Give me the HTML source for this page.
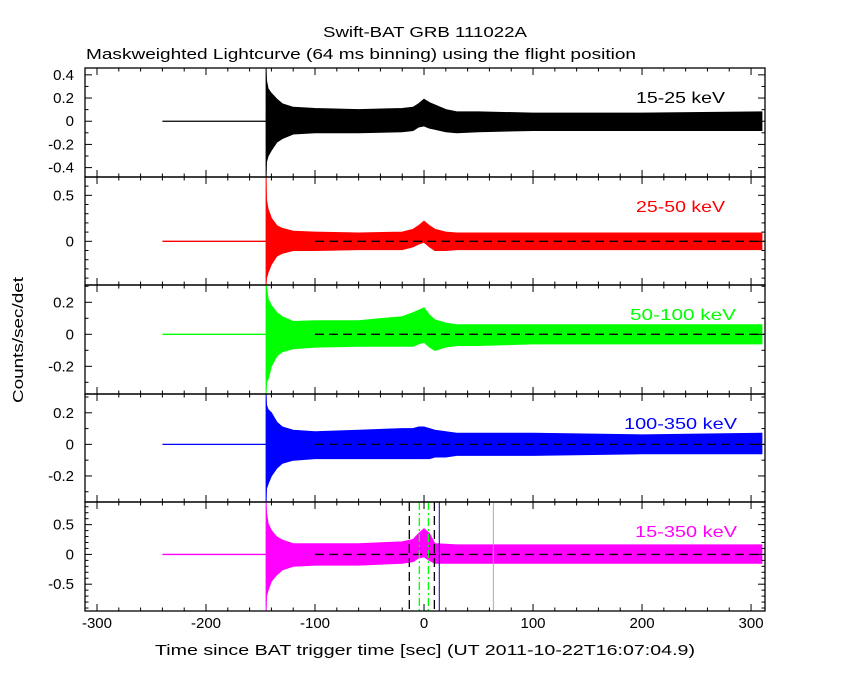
<!DOCTYPE html>
<html><head><meta charset="utf-8"><style>
html,body{margin:0;padding:0;background:#fff;}
svg{display:block;font-family:"Liberation Sans",sans-serif;}
</style></head><body>
<svg id="chart" width="850" height="680" viewBox="0 0 850 680" xmlns="http://www.w3.org/2000/svg">
<rect width="850" height="680" fill="#fff"/>
<text x="425" y="37" font-size="15" text-anchor="middle" textLength="204" lengthAdjust="spacingAndGlyphs">Swift-BAT GRB 111022A</text>
<text x="86" y="59" font-size="15" textLength="550" lengthAdjust="spacingAndGlyphs">Maskweighted Lightcurve (64 ms binning) using the flight position</text>
<text transform="translate(23,340) rotate(-90)" font-size="15" text-anchor="middle" textLength="126" lengthAdjust="spacingAndGlyphs">Counts/sec/det</text>
<text x="425" y="655" font-size="15" text-anchor="middle" textLength="540" lengthAdjust="spacingAndGlyphs">Time since BAT trigger time [sec] (UT 2011-10-22T16:07:04.9)</text>
<g id="plots"></g>
</svg>
<script>
// ---- data ----
const panelNames = ["15-25 keV","25-50 keV","50-100 keV","100-350 keV","15-350 keV"];
const panelColors = ["#000000","#ff0000","#00ff00","#0000ff","#ff00ff"];
const panelYMin = [-0.481,-0.475,-0.373,-0.365,-0.95];
const panelYMax = [0.459,0.699,0.308,0.319,0.88];
const panelMajor = [0.2,0.5,0.2,0.2,0.5];
const panelMinor = [0.1,0.1,0.1,0.1,0.1];
const panelTickLabels = [["0.4","0.2","0","-0.2","-0.4"],["0.5","0"],["0.2","0","-0.2"],["0.2","0","-0.2"],["0.5","0","-0.5"]];
const panelTickValues = [[0.4,0.2,0,-0.2,-0.4],[0.5,0],[0.2,0,-0.2],[0.2,0,-0.2],[0.5,0,-0.5]];
const envTimes = [-144.9,-144.5,-143,-140,-135,-130,-120,-100,-60,-20,-10,-5,0,5,10,20,30,50,100,200,310];
const upper1 = [0.459,0.35,0.28,0.24,0.19,0.15,0.12,0.11,0.10,0.11,0.12,0.15,0.19,0.16,0.14,0.10,0.08,0.08,0.07,0.07,0.08];
const lower1 = [-0.481,-0.35,-0.30,-0.25,-0.18,-0.15,-0.11,-0.10,-0.10,-0.09,-0.08,-0.05,-0.04,-0.06,-0.07,-0.09,-0.10,-0.09,-0.08,-0.08,-0.08];
const upper2 = [0.699,0.45,0.35,0.25,0.17,0.14,0.11,0.10,0.09,0.10,0.13,0.17,0.22,0.17,0.13,0.10,0.09,0.09,0.09,0.09,0.09];
const lower2 = [-0.475,-0.40,-0.34,-0.25,-0.16,-0.13,-0.10,-0.10,-0.09,-0.09,-0.06,-0.03,-0.01,-0.06,-0.10,-0.10,-0.09,-0.09,-0.09,-0.09,-0.09];
const upper3 = [0.308,0.30,0.22,0.18,0.135,0.11,0.08,0.085,0.085,0.11,0.135,0.15,0.165,0.12,0.09,0.07,0.06,0.06,0.06,0.06,0.06];
const lower3 = [-0.373,-0.30,-0.28,-0.20,-0.135,-0.11,-0.09,-0.08,-0.075,-0.075,-0.075,-0.06,-0.05,-0.08,-0.10,-0.08,-0.07,-0.07,-0.06,-0.06,-0.06];
const upper4 = [0.319,0.25,0.22,0.20,0.14,0.11,0.09,0.08,0.09,0.10,0.10,0.11,0.11,0.10,0.09,0.08,0.07,0.07,0.07,0.06,0.07];
const lower4 = [-0.365,-0.28,-0.25,-0.20,-0.15,-0.12,-0.10,-0.09,-0.09,-0.09,-0.09,-0.09,-0.09,-0.09,-0.08,-0.08,-0.07,-0.07,-0.07,-0.06,-0.06];
const upper5 = [0.88,0.70,0.52,0.40,0.29,0.24,0.18,0.18,0.18,0.21,0.25,0.35,0.43,0.35,0.18,0.17,0.16,0.16,0.16,0.16,0.16];
const lower5 = [-0.95,-0.70,-0.60,-0.45,-0.34,-0.26,-0.20,-0.18,-0.18,-0.15,-0.12,-0.06,-0.04,-0.10,-0.15,-0.15,-0.15,-0.15,-0.15,-0.15,-0.15];
const uppers = [upper1,upper2,upper3,upper4,upper5];
const lowers = [lower1,lower2,lower3,lower4,lower5];
const preBurstStart = -240;
const burstStart = -144.9;
const baselineStart = -100;
const xTickValues = [-300,-200,-100,0,100,200,300];
const xTickLabels = ["-300","-200","-100","0","100","200","300"];
const blackDashTimes = [-13.5,9.5];
const greenDashTimes = [-4.3,4.0];
const blueLineTime = 14;
const orangeLineTime = 63.6;

// ---- layout ----
const X0=85, X1=765, T0=-311, T1=312.8;
const panelTops=[68,177,285,394,502], panelBots=[177,285,394,502,611];
const labelRight=[725,725,736,737,737], labelWidth=[89,89,106,113,102];
const NS="http://www.w3.org/2000/svg";
const root=document.getElementById('plots');
function xs(t){return X0+(t-T0)/(T1-T0)*(X1-X0);}
function mk(tag,attrs,parent){const e=document.createElementNS(NS,tag);for(const k in attrs)e.setAttribute(k,attrs[k]);(parent||root).appendChild(e);return e;}

for(let p=0;p<5;p++){
  const top=panelTops[p], bot=panelBots[p], lo=panelYMin[p], hi=panelYMax[p];
  const ys=v=>bot-(v-lo)/(hi-lo)*(bot-top);
  const g=mk('g',{});
  
  
  const col=panelColors[p];
  const pre=mk('line',{x1:xs(preBurstStart),x2:xs(burstStart),y1:ys(0),y2:ys(0),stroke:col,'stroke-width':1.3},g);
  
  
  const up=uppers[p], dn=lowers[p];
  let d='';
  for(let i=0;i<envTimes.length;i++){d+=(i?'L':'M')+xs(envTimes[i]).toFixed(1)+','+ys(up[i]).toFixed(1);}
  for(let i=envTimes.length-1;i>=0;i--){d+='L'+xs(envTimes[i]).toFixed(1)+','+ys(dn[i]).toFixed(1);}
  d+='Z';
  const env=mk('path',{d:d,fill:col,stroke:col,'stroke-width':1},g);
  
  
  if(p>=1){
    const bl=mk('line',{x1:xs(baselineStart),x2:X1,y1:ys(0),y2:ys(0),stroke:'#000','stroke-width':1.3,'stroke-dasharray':'9,5'},g);
    
    
  }
  if(p===4){
    for(const t of blackDashTimes){
      const l=mk('line',{x1:xs(t),x2:xs(t),y1:top,y2:bot,stroke:'#000','stroke-width':1.3,'stroke-dasharray':'9,5'},g);
      
      
    }
    for(const t of greenDashTimes){
      const l=mk('line',{x1:xs(t),x2:xs(t),y1:top,y2:bot,stroke:'#00ff00','stroke-width':1.3,'stroke-dasharray':'8,3,2,3'},g);
      
      
    }
    const bl=mk('line',{x1:xs(blueLineTime),x2:xs(blueLineTime),y1:top,y2:bot,stroke:'#0000cc','stroke-width':1},g);
    
    
    const ol=mk('line',{x1:xs(orangeLineTime),x2:xs(orangeLineTime),y1:top,y2:bot,stroke:'#aaaaaa','stroke-width':1},g);
    
    
  }
  const fr=mk('rect',{x:X0,y:top,width:X1-X0,height:bot-top,fill:'none',stroke:'#000','stroke-width':1.3},g);
  
  
  for(let t=-300;t<=300;t+=20){
    const len=(t%100===0)?7:3.5, x=xs(t);
    mk('line',{x1:x,x2:x,y1:top,y2:top+len,stroke:'#000','stroke-width':1},g);
    mk('line',{x1:x,x2:x,y1:bot,y2:bot-len,stroke:'#000','stroke-width':1},g);
  }
  const mn=panelMinor[p];
  for(let k=Math.ceil(lo/mn);k*mn<=hi;k++){
    const v=k*mn, y=ys(v);
    const isMaj=Math.abs(v/panelMajor[p]-Math.round(v/panelMajor[p]))<1e-6;
    const len=isMaj?7:3.5;
    mk('line',{x1:X0,x2:X0+len,y1:y,y2:y,stroke:'#000','stroke-width':1},g);
    mk('line',{x1:X1,x2:X1-len,y1:y,y2:y,stroke:'#000','stroke-width':1},g);
  }
  panelTickValues[p].forEach((v,i)=>{
    const tl=mk('text',{x:X0-11,y:ys(v)+5,'font-size':15,'text-anchor':'end'},g);
    
    
    tl.textContent=panelTickLabels[p][i];
  });
  const lab=mk('text',{x:labelRight[p]-labelWidth[p],y:top+35,'font-size':16,fill:col,textLength:labelWidth[p],lengthAdjust:'spacingAndGlyphs'},g);
  
  
  lab.textContent=panelNames[p];
}
xTickValues.forEach((v,i)=>{
  const t=mk('text',{x:xs(v),y:628,'font-size':15,'text-anchor':'middle'});
  
  
  t.textContent=xTickLabels[i];
});
</script>
</body></html>
